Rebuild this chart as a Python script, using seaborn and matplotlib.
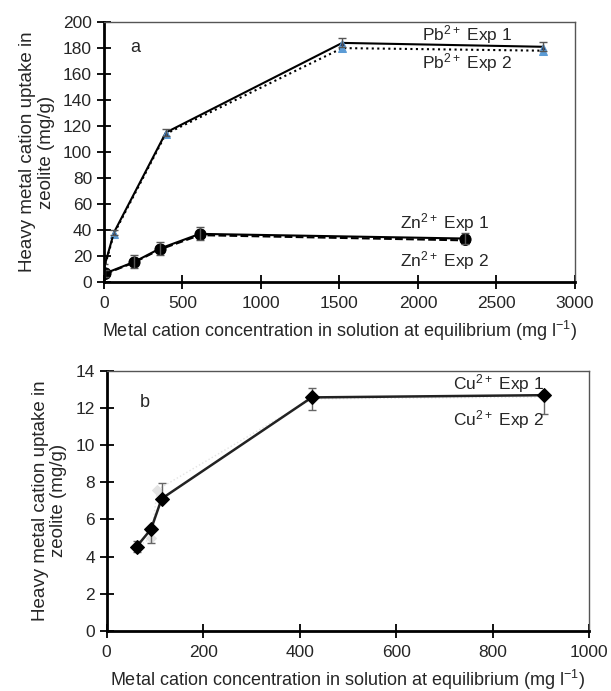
import matplotlib
matplotlib.use("Agg")
import matplotlib.pyplot as plt
import seaborn as sns
import pandas as pd

# ---- data ----
pb_x1 = [0, 64, 395, 1518, 2799]
pb_y1 = [10.5, 38, 115, 184, 181]
pb_err1 = [3, 2, 3, 3.5, 3.5]
pb_x2 = [0, 64, 395, 1518, 2799]
pb_y2 = [9.5, 37, 114, 180, 178]

zn_x1 = [6, 193, 357, 611, 2299]
zn_y1 = [6.5, 15.4, 25.7, 37, 33.4]
zn_err1 = [3, 5, 5, 5, 4]
zn_x2 = [6, 193, 357, 611, 2299]
zn_y2 = [6, 15, 25, 36, 32]

cu_x1 = [62, 92, 114, 425, 907]
cu_y1 = [4.53, 5.48, 7.12, 12.58, 12.7]
cu_x2 = [62, 92, 105, 425, 907]
cu_y2 = [4.5, 5.0, 7.6, 12.5, 12.6]
cu_err_lo = [0.3, 0.75, 0.0, 0.7, 1.0]
cu_err_hi = [0.3, 0.0, 0.85, 0.5, 0.0]

xlabel = "Metal cation concentration in solution at equilibrium (mg l$^{-1}$)"
ylabel = "Heavy metal cation uptake in\nzeolite (mg/g)"

sns.set_style("white")
plt.rcParams['font.family'] = ['Liberation Sans', 'DejaVu Sans']
plt.rcParams['mathtext.fontset'] = 'custom'
plt.rcParams['mathtext.rm'] = 'Liberation Sans'
plt.rcParams['mathtext.it'] = 'Liberation Sans'
FS = 12.5

fig = plt.figure(figsize=(6.11, 6.91), dpi=100)
ax1 = fig.add_axes([0.170, 0.592, 0.771, 0.376])
ax2 = fig.add_axes([0.1746, 0.0873, 0.7899, 0.3757])

def style(ax):
    for s in ['left', 'bottom']:
        ax.spines[s].set_color('black')
        ax.spines[s].set_linewidth(2.0)
    for s in ['top', 'right']:
        ax.spines[s].set_color('#555555')
        ax.spines[s].set_linewidth(1.0)
    ax.tick_params(axis='both', direction='inout', length=10, width=1.3,
                   labelsize=12.5, color='black', left=True, bottom=True)
    ax.tick_params(axis='x', pad=5)
    ax.set_xlabel(xlabel, fontsize=13, labelpad=6)
    ax.set_ylabel(ylabel, fontsize=13.5, labelpad=6, linespacing=1.1)

# --- top panel ---
df = pd.DataFrame({'x': pb_x2, 'y': pb_y2})
sns.lineplot(data=df, x='x', y='y', ax=ax1, color='black', linestyle=':', lw=1.5,
             marker='^', markersize=6, markerfacecolor='#5b9bd5', markeredgecolor='#5b9bd5')
df = pd.DataFrame({'x': pb_x1, 'y': pb_y1})
sns.lineplot(data=df, x='x', y='y', ax=ax1, color='black', lw=1.5,
             marker='^', markersize=5, markerfacecolor='#1f3864', markeredgecolor='#5b9bd5')
ax1.errorbar(pb_x1, pb_y1, yerr=pb_err1, fmt='none', ecolor='#555555', elinewidth=1, capsize=3)

df = pd.DataFrame({'x': zn_x2, 'y': zn_y2})
sns.lineplot(data=df, x='x', y='y', ax=ax1, color='black', linestyle='--', lw=1.5,
             marker='o', markersize=7, markerfacecolor='black', markeredgecolor='black')
df = pd.DataFrame({'x': zn_x1, 'y': zn_y1})
sns.lineplot(data=df, x='x', y='y', ax=ax1, color='black', lw=1.5,
             marker='o', markersize=8, markerfacecolor='black', markeredgecolor='black')
ax1.errorbar(zn_x1, zn_y1, yerr=zn_err1, fmt='none', ecolor='#555555', elinewidth=1, capsize=3)

ax1.set_xlim(0, 3000)
ax1.set_ylim(0, 200)
ax1.set_xticks(range(0, 3001, 500))
ax1.set_yticks(range(0, 201, 20))
style(ax1)
ax1.text(197, 180.5, "a", fontsize=13, ha='center', va='center')
ax1.text(2311, 190.6, "Pb$^{2+}$ Exp 1", fontsize=FS, ha='center', va='center')
ax1.text(2311, 169, "Pb$^{2+}$ Exp 2", fontsize=FS, ha='center', va='center')
ax1.text(2172, 46, "Zn$^{2+}$ Exp 1", fontsize=FS, ha='center', va='center')
ax1.text(2172, 16.7, "Zn$^{2+}$ Exp 2", fontsize=FS, ha='center', va='center')

# --- bottom panel ---
df = pd.DataFrame({'x': cu_x2, 'y': cu_y2})
sns.lineplot(data=df, x='x', y='y', ax=ax2, color='#e3e3e3', linestyle=':', lw=1.0,
             marker='D', markersize=5, markerfacecolor='#e3e3e3', markeredgecolor='#e3e3e3')
ax2.errorbar(cu_x1, cu_y1, yerr=[cu_err_lo, cu_err_hi], fmt='none', ecolor='#666666',
             elinewidth=1, capsize=3)
df = pd.DataFrame({'x': cu_x1, 'y': cu_y1})
sns.lineplot(data=df, x='x', y='y', ax=ax2, color='#222222', lw=1.8,
             marker='D', markersize=7, markerfacecolor='black', markeredgecolor='black')

ax2.set_xlim(0, 1000)
ax2.set_ylim(0, 14)
ax2.set_xticks(range(0, 1001, 200))
ax2.set_yticks(range(0, 15, 2))
style(ax2)
ax2.text(79, 12.3, "b", fontsize=13, ha='center', va='center')
ax2.text(813, 13.33, "Cu$^{2+}$ Exp 1", fontsize=FS, ha='center', va='center')
ax2.text(811, 11.36, "Cu$^{2+}$ Exp 2", fontsize=FS, ha='center', va='center')

fig.savefig("out.png", dpi=100)
